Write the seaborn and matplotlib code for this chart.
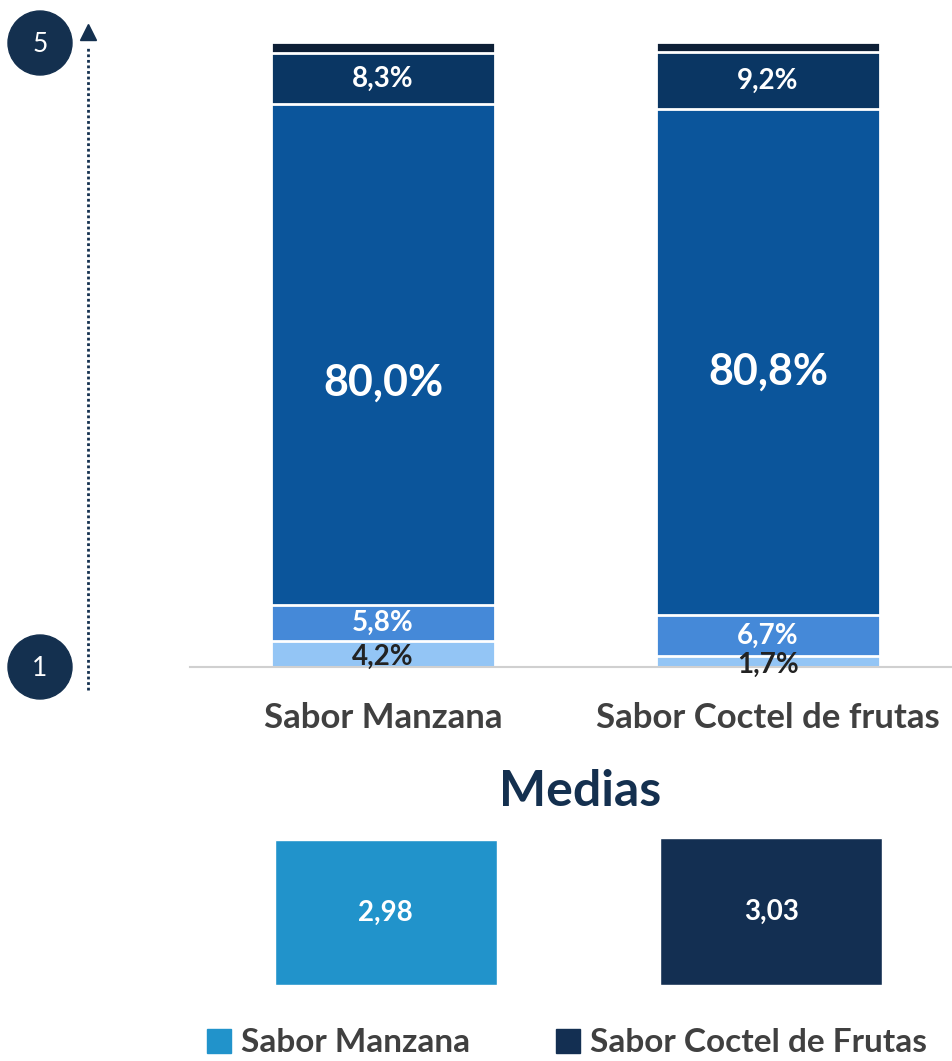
import numpy as np
import pandas as pd
import matplotlib.pyplot as plt
import seaborn as sns
from matplotlib.patches import Circle, Patch

## Dados
categorias = ["Sabor Manzana", "Sabor Coctel de frutas"]
niveis = ["1", "2", "3", "4", "5"]
pct_manzana = [4.2, 5.8, 80.0, 8.3, 1.7]
pct_coctel = [1.7, 6.7, 80.8, 9.2, 1.6]
rotulos_manzana = ["4,2%", "5,8%", "80,0%", "8,3%", ""]
rotulos_coctel = ["1,7%", "6,7%", "80,8%", "9,2%", ""]
medias = [2.98, 3.03]
rotulos_medias = ["2,98", "3,03"]
legenda = ["Sabor Manzana", "Sabor Coctel de Frutas"]

cores_niveis = ["#93C5F5", "#4589D8", "#0B559B", "#0A3663", "#0D1F36"]
cores_medias = ["#2193CB", "#132F52"]
cor_texto = "#404040"
cor_navy = "#14304F"

sns.set_theme(style="white")
plt.rcParams['font.family'] = ['Lato', 'DejaVu Sans']

W, H = 953, 1061
fig = plt.figure(figsize=(W / 100, H / 100), dpi=100)

# tabela longa com acumulados
linhas = []
for cat, vals, rots in zip(categorias, [pct_manzana, pct_coctel], [rotulos_manzana, rotulos_coctel]):
    acum = np.cumsum(vals)
    for nivel, v, a, r in zip(niveis, vals, acum, rots):
        linhas.append({"cat": cat, "nivel": nivel, "pct": v, "acum": a, "rot": r})
df = pd.DataFrame(linhas)

## Barras empilhadas
ax = fig.add_axes([190 / W, (H - 667) / H, (W - 190) / W, 625 / H])
largura = 0.582
# desenha do topo para a base, cada barra cobrindo a anterior
for i in range(len(niveis) - 1, -1, -1):
    sub = df[df["nivel"] == niveis[i]]
    sns.barplot(data=sub, x="cat", y="acum", order=categorias, color=cores_niveis[i],
                saturation=1, width=largura, edgecolor="white", linewidth=2, ax=ax)

for j, cat in enumerate(categorias):
    sub = df[df["cat"] == cat].reset_index(drop=True)
    for i, row in sub.iterrows():
        if not row["rot"]:
            continue
        meio = row["acum"] - row["pct"] / 2
        if i == 2:
            meio -= 4.5 if j == 0 else 1.5
            tam = 31
        else:
            tam = 20
        if i == 0:
            meio -= 0.5
        cor = "#222222" if i == 0 else "white"
        ax.text(j, meio, row["rot"], ha="center", va="center", color=cor,
                fontsize=tam, fontweight="bold")

ax.set_xlim(-0.501, 1.48)
ax.set_ylim(0, 100)
ax.set_xlabel("")
ax.set_ylabel("")
ax.set_yticks([])
ax.tick_params(axis="x", length=0, pad=25, labelsize=25, labelcolor=cor_texto)
for t in ax.get_xticklabels():
    t.set_fontweight("bold")
for s in ["top", "right", "left"]:
    ax.spines[s].set_visible(False)
ax.spines["bottom"].set_color("#D0D0D0")
ax.spines["bottom"].set_linewidth(1.5)

## Medias
ax2 = fig.add_axes([190 / W, (H - 985) / H, (W - 190) / W, 170 / H])
dfm = pd.DataFrame({"cat": categorias, "media": medias})
sns.barplot(data=dfm, x="cat", y="media", hue="cat", palette=cores_medias, saturation=1,
            width=0.577, legend=False, ax=ax2)
for j, (v, r) in enumerate(zip(medias, rotulos_medias)):
    ax2.text(j, v / 2, r, ha="center", va="center", color="white", fontsize=20, fontweight="bold")
ax2.set_xlim(-0.508, 1.472)
ax2.set_ylim(0, 3.5)
ax2.axis("off")

fig.text(580 / W, 1 - 792 / H, "Medias", ha="center", va="center", fontsize=36,
         fontweight="bold", color=cor_navy)

## Escala 1-5 à esquerda
ov = fig.add_axes([0, 0, 1, 1], zorder=-1)
ov.set_xlim(0, W)
ov.set_ylim(H, 0)
ov.axis("off")
for y, t in [(43, "5"), (667, "1")]:
    ov.add_patch(Circle((40, y), 32, color=cor_navy))
    ov.text(40, y + 1, t, ha="center", va="center", color="white", fontsize=19)
ov.plot([88, 88], [690, 48], color=cor_navy, linestyle=(0, (1, 1)), linewidth=2)
ov.plot([88], [32], marker="^", markersize=11, color=cor_navy)

## Legenda
handles = [Patch(color=c) for c in cores_medias]
leg = fig.legend(handles, legenda, loc="center", bbox_to_anchor=(567 / W, 1 - 1043 / H), ncol=2,
                 frameon=False, handlelength=0.7, handleheight=0.7, handletextpad=0.3,
                 columnspacing=2.6, prop={"size": 24, "weight": "bold"})
for t in leg.get_texts():
    t.set_color(cor_texto)

fig.savefig("out.png", dpi=100)
